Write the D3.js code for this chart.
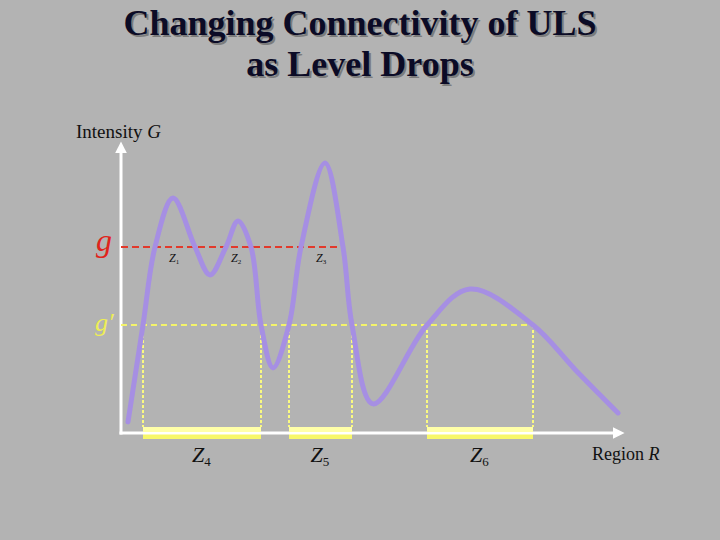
<!DOCTYPE html>
<html>
<head>
<meta charset="utf-8">
<script src="https://cdn.jsdelivr.net/npm/d3@7"></script>
<style>
  body { margin: 0; background: #b3b3b3; }
  svg { display: block; }
  .title { text-shadow: 2px 2px 0 #7c7c7c; }
</style>
</head>
<body>
<div class="chart"></div>
<script>
var svgWidth = 720;
var svgHeight = 540;

// title lines
var titleLines = ["Changing Connectivity of ULS", "as Level Drops"];

// intensity profile along region R (region 0-100, intensity 0-100)
var regionR = [1.4, 4.4, 6.8, 10.4, 14.8, 17.8, 21, 23.4, 26, 28, 30.4, 33.6, 36, 40.8, 44.4, 46.2, 50.4, 61.2, 69.8, 82.4, 90.8, 99.4];
var intensityG = [3.7, 36, 62, 78.3, 62, 52.7, 62, 70.7, 62, 36, 21.7, 36, 62, 90, 62, 36, 9.7, 36, 48, 36, 21.2, 6.7];

// thresholds
var levelG = 62;
var levelG2 = 36;
var levelGEnd = 44.4;
var levelG2End = 82.4;

// connected components above g (labels) and above g' (intervals)
var upperNames = ["1", "2", "3"];
var upperCenters = [10.4, 22.8, 39.8];
var lowerNames = ["4", "5", "6"];
var lowerStart = [4.4, 33.6, 61.2];
var lowerEnd = [28, 46.2, 82.4];

var curveData = regionR.map((r, i) => ({ r: r, g: intensityG[i] }));

var svg = d3.select(".chart")
  .append("svg")
  .attr("width", svgWidth)
  .attr("height", svgHeight);

var x = d3.scaleLinear().domain([0, 100]).range([121, 621]);
var y = d3.scaleLinear().domain([0, 100]).range([433, 133]);

// Title with shadow, two lines in one text
var title = svg.append("text")
  .attr("class", "title")
  .attr("text-anchor", "middle")
  .style("font", "bold 36px 'Liberation Serif', serif")
  .attr("fill", "#0b0b26");
titleLines.forEach(function (t, i) {
  title.append("tspan")
    .attr("x", 360).attr("y", 35 + i * 41)
    .text(t);
});

// arrow marker
svg.append("defs").append("marker")
  .attr("id", "arrow")
  .attr("viewBox", "0 0 10 10")
  .attr("refX", 2).attr("refY", 5)
  .attr("markerWidth", 4).attr("markerHeight", 4)
  .attr("orient", "auto")
  .append("path")
  .attr("d", "M0,0 L10,5 L0,10 z")
  .attr("fill", "white");

// Yellow bars along the region axis
svg.selectAll(".bar")
  .data(lowerStart)
  .enter()
  .append("rect")
  .attr("x", (d, i) => x(d))
  .attr("y", y(0) - 6)
  .attr("width", (d, i) => x(lowerEnd[i]) - x(d))
  .attr("height", 12)
  .attr("fill", "#f7f76a");

// Axes
svg.append("line")
  .attr("x1", x(0)).attr("y1", y(0) + 1.5)
  .attr("x2", x(0)).attr("y2", y(100) + 18)
  .attr("stroke", "white").attr("stroke-width", 3)
  .attr("marker-end", "url(#arrow)");

svg.append("line")
  .attr("x1", x(0) - 1.5).attr("y1", y(0))
  .attr("x2", x(100) - 6).attr("y2", y(0))
  .attr("stroke", "white").attr("stroke-width", 3)
  .attr("marker-end", "url(#arrow)");

// lighter upper half of the yellow bars
svg.selectAll(".barTop")
  .data(lowerStart)
  .enter()
  .append("rect")
  .attr("x", (d, i) => x(d))
  .attr("y", y(0) - 6)
  .attr("width", (d, i) => x(lowerEnd[i]) - x(d))
  .attr("height", 5)
  .attr("fill", "#ffffa8");

// Vertical dotted drops
var drops = lowerStart.concat(lowerEnd);
svg.selectAll(".drop")
  .data(drops)
  .enter()
  .append("line")
  .attr("x1", d => x(d)).attr("x2", d => x(d))
  .attr("y1", y(levelG2)).attr("y2", y(0) - 6)
  .attr("stroke", "#fafa80")
  .attr("stroke-width", 2)
  .attr("stroke-dasharray", "3,2");

// Threshold lines
svg.append("line")
  .attr("x1", x(0)).attr("x2", x(levelGEnd))
  .attr("y1", y(levelG)).attr("y2", y(levelG))
  .attr("stroke", "#e2392b").attr("stroke-width", 2)
  .attr("stroke-dasharray", "7,4");

svg.append("line")
  .attr("x1", x(0)).attr("x2", x(levelG2End))
  .attr("y1", y(levelG2)).attr("y2", y(levelG2))
  .attr("stroke", "#f3f36a").attr("stroke-width", 2)
  .attr("stroke-dasharray", "6,4");

// Intensity curve
var line = d3.line()
  .x(d => x(d.r))
  .y(d => y(d.g))
  .curve(d3.curveCatmullRom.alpha(0.5));

svg.append("path")
  .datum(curveData)
  .attr("d", line)
  .attr("fill", "none")
  .attr("stroke", "#a68fe3")
  .attr("stroke-width", 5)
  .attr("stroke-linecap", "round");

// Labels
var serif = "'Liberation Serif', serif";

var yLab = svg.append("text")
  .attr("x", 76).attr("y", 138)
  .style("font-family", serif).style("font-size", "19px")
  .attr("fill", "#111");
yLab.append("tspan").text("Intensity ");
yLab.append("tspan").style("font-style", "italic").text("G");

var xLab = svg.append("text")
  .attr("x", 592).attr("y", 460)
  .style("font-family", serif).style("font-size", "18px")
  .attr("fill", "#111");
xLab.append("tspan").text("Region ");
xLab.append("tspan").style("font-style", "italic").text("R");

svg.append("text")
  .attr("x", 96).attr("y", y(levelG) + 4)
  .style("font-family", serif).style("font-size", "32px").style("font-style", "italic")
  .attr("fill", "#e0241c")
  .text("g");

svg.append("text")
  .attr("x", 95).attr("y", y(levelG2) + 6)
  .style("font-family", serif).style("font-size", "26px").style("font-style", "italic")
  .attr("fill", "#eeee55")
  .text("g\u2032");

upperNames.forEach(function (n, i) {
  var t = svg.append("text")
    .attr("x", x(upperCenters[i]) - 4).attr("y", y(levelG) + 15)
    .style("font-family", serif).style("font-size", "12px").style("font-style", "italic")
    .attr("fill", "#111");
  t.append("tspan").text("Z");
  t.append("tspan").attr("dy", 2).style("font-size", "7px").style("font-style", "normal").text(n);
});

lowerNames.forEach(function (n, i) {
  var t = svg.append("text")
    .attr("x", x((lowerStart[i] + lowerEnd[i]) / 2) - 10).attr("y", 462)
    .style("font-family", serif).style("font-size", "22px").style("font-style", "italic")
    .attr("fill", "#111");
  t.append("tspan").text("Z");
  t.append("tspan").attr("dy", 4).style("font-size", "13px").style("font-style", "normal").text(n);
});
</script>
</body>
</html>
